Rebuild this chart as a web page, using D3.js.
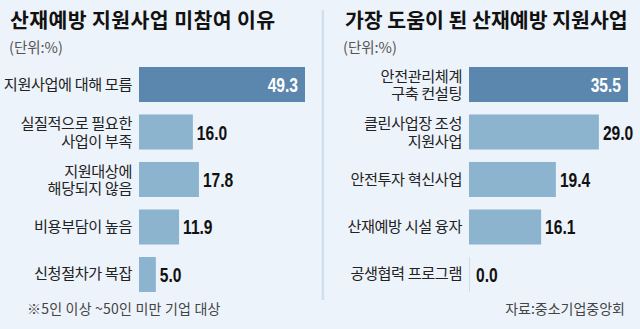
<!DOCTYPE html>
<html><head><meta charset="utf-8">
<script src="https://cdn.jsdelivr.net/npm/d3@7"></script>
<style>
html,body{margin:0;padding:0;background:#edf3fa;}
svg{display:block;}
text{font-family:"Noto Sans CJK KR","Noto Sans",sans-serif;}
.val{font-family:"Liberation Sans",Arial,sans-serif;font-weight:bold;}
</style></head>
<body>
<svg id="c" width="640" height="329"></svg>
<script>
const leftTitle = "산재예방 지원사업 미참여 이유";
const rightTitle = "가장 도움이 된 산재예방 지원사업";
const unitLabel = "(단위:%)";
const leftCategories = ["지원사업에 대해 모름", "실질적으로 필요한\n사업이 부족", "지원대상에\n해당되지 않음", "비용부담이 높음", "신청절차가 복잡"];
const leftValues = [49.3, 16.0, 17.8, 11.9, 5.0];
const rightCategories = ["안전관리체계\n구축 컨설팅", "클린사업장 조성\n지원사업", "안전투자 혁신사업", "산재예방 시설 융자", "공생협력 프로그램"];
const rightValues = [35.5, 29.0, 19.4, 16.1, 0.0];
const footnote = "※5인 이상 ~50인 미만 기업 대상";
const source = "자료:중소기업중앙회";

const svg = d3.select("#c");
const darkColor = "#5b87ae", lightColor = "#8db4cf", zeroColor = "#d3dce6";

// divider
const grad = svg.append("defs").append("linearGradient").attr("id","dg").attr("x1",0).attr("x2",1);
grad.append("stop").attr("offset","0%").attr("stop-color","#dbe7f4");
grad.append("stop").attr("offset","50%").attr("stop-color","#c6daf0");
grad.append("stop").attr("offset","100%").attr("stop-color","#e3edf8");
svg.append("rect").attr("x",321.5).attr("y",10).attr("width",3).attr("height",290).attr("fill","url(#dg)");

function panel(opts){
  const g = svg.append("g");
  g.append("text").attr("x",opts.titleX).attr("y",28).attr("font-size",20.5).attr("font-weight",700)
    .attr("letter-spacing", opts.titleSpacing).attr("fill","#111").text(opts.title);
  g.append("text").attr("x",opts.unitX).attr("y",53).attr("font-size",14.5).attr("fill","#555").text(unitLabel);
  const x = d3.scaleLinear().domain([0, opts.max]).range([opts.x0, opts.x1]);
  const y = d3.scaleBand().domain(opts.cats).range([67, 292]).paddingInner(0.263).paddingOuter(0);
  const data = opts.cats.map((c,i)=>({c, v:opts.vals[i], i}));
  g.selectAll("rect.bar").data(data).join("rect").attr("class","bar")
    .attr("x", x(0)).attr("y", d=>y(d.c))
    .attr("width", d=> d.v>0 ? x(d.v)-x(0) : 1)
    .attr("height", y.bandwidth())
    .attr("fill", d=> d.v===0 ? zeroColor : (d.i===0 ? darkColor : lightColor));
  // category labels
  data.forEach(d=>{
    const lines = d.c.split("\n");
    const cy = y(d.c) + y.bandwidth()/2;
    const t = g.append("text").attr("text-anchor","end").attr("font-size",15.2)
      .attr("letter-spacing","-0.4px").attr("fill","#222");
    lines.forEach((ln,k)=>{
      const yy = lines.length === 1 ? cy + 5 : cy + (k - 0.5)*17.5 + 6;
      t.append("tspan").attr("x", opts.labelX).attr("y", yy).text(ln);
    });
  });
  // values
  data.forEach(d=>{
    const cy = y(d.c) + y.bandwidth()/2;
    const inside = d.i===0;
    const vx = inside ? x(d.v)-7 : (d.v===0 ? x(0)+7 : x(d.v)+4);
    g.append("g").attr("transform", `translate(${vx},${cy+7.5}) scale(0.8,1)`)
      .append("text").attr("class","val")
      .attr("text-anchor", inside ? "end" : "start")
      .attr("font-size",19.5)
      .attr("fill", inside ? "#fff" : "#111")
      .text(d3.format(".1f")(d.v));
  });
}

panel({title:leftTitle, titleSpacing:"0.4px", titleX:10, unitX:9, cats:leftCategories, vals:leftValues, max:49.3, x0:139, x1:305, labelX:132});
panel({title:rightTitle, titleSpacing:"0px", titleX:345, unitX:343, cats:rightCategories, vals:rightValues, max:35.5, x0:469, x1:628, labelX:462});

svg.append("text").attr("x",27).attr("y",314).attr("font-size",14).attr("fill","#444").attr("letter-spacing","0.2px").text(footnote);
svg.append("text").attr("x",625).attr("y",314).attr("text-anchor","end").attr("font-size",14).attr("fill","#444").text(source);
</script>
</body></html>
